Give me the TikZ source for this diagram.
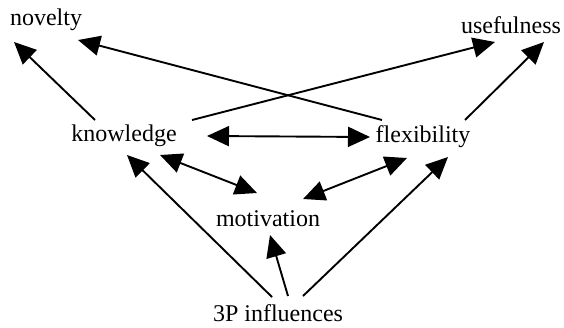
\documentclass[tikz,border=0pt]{standalone}
\usepackage{fontspec}
\setmainfont{Liberation Serif}
\usetikzlibrary{arrows.meta,calc}
\def\arr{\draw[-{Triangle[length=22pt,width=20pt]},line width=1.9pt]}
\def\barr{\draw[{Triangle[length=22pt,width=20pt]}-{Triangle[length=22pt,width=20pt]},line width=1.9pt]}

\begin{document}
\begin{tikzpicture}[x=1pt,y=-1pt,font=\fontsize{24}{28}\selectfont]
                \useasboundingbox (0,0) rectangle (564,327);
                \node (nov) at ( 46, 20) {novelty};
                \node (use) at (511, 25) {usefulness};
                \node (kn)  at (124,136) {knowledge};
                \node (fl)  at (423,137) {flexibility};
                \node (mot) at (268,219) {motivation};
                \node (inf) at (278,313) {3P influences};
                % outcomes
                \arr ($(kn)+(-29,-16)$) -- ($(nov)+(-32,22)$);
                \arr ($(fl)+(-41,-17)$) -- ($(nov)+(32,20)$);
                \arr ($(kn)+(68,-16)$)  -- ($(use)+(-16,17)$);
                \arr ($(fl)+(42,-17)$)  -- ($(use)+(33,17)$);
                % mutual links
                \barr ($(kn)+(83,0)$)   -- ($(fl)+(-53,0)$);
                \barr ($(kn)+(36,19)$)  -- ($(mot)+(-11,-26)$);
                \barr ($(mot)+(35,-20)$) -- ($(fl)+(-16,21)$);
                % influences
                \arr ($(inf)+(-6,-16)$) -- ($(kn)+(3,19)$);
                \arr ($(inf)+(10,-17)$) -- ($(mot)+(2,16)$);
                \arr ($(inf)+(25,-17)$) -- ($(fl)+(25,20)$);
            \end{tikzpicture}
\end{document}
